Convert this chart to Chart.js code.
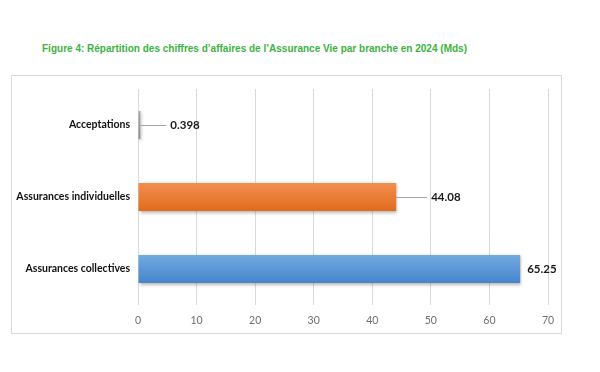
<!DOCTYPE html>
<html>
<head>
<meta charset="utf-8">
<script src="https://cdn.jsdelivr.net/npm/chart.js@4/dist/chart.umd.min.js"></script>
<style>
  html, body { margin: 0; padding: 0; background: #ffffff; }
  body { width: 600px; height: 372px; position: relative; overflow: hidden; }
  #title {
    position: absolute; left: 42px; top: 42px;
    font-family: "Liberation Sans", Arial, sans-serif;
    font-weight: bold; font-size: 11.5px; color: #3db33f; white-space: nowrap;
    transform-origin: 0 50%;
  }
  #box {
    position: absolute; left: 11px; top: 75px; width: 549px; height: 257px;
    border: 1px solid #d9d9d9;
  }
  #box canvas { display: block; }
</style>
</head>
<body>
<div id="title">Figure 4: Répartition des chiffres d’affaires de l’Assurance Vie par branche en 2024 (Mds)</div>
<div id="box"><canvas id="c" width="549" height="257"></canvas></div>
<script>
const categories = ["Acceptations", "Assurances individuelles", "Assurances collectives"];
const values = [0.398, 44.08, 65.25];
const valueLabels = ["0.398", "44.08", "65.25"];
const xTicks = [0, 10, 20, 30, 40, 50, 60, 70];

const barTop = ["#a8a8a8", "#f48f50", "#72aae0"];
const barBottom = ["#8f8f8f", "#e06b1c", "#4585cc"];
const leaderLen = [26, 31, 0];

// condense the title to the reference's narrow width
(function () {
  const t = document.getElementById('title');
  const w = t.getBoundingClientRect().width;
  t.style.transform = 'scaleX(' + (425 / w) + ')';
})();

const gradientPlugin = {
  id: 'grad',
  beforeDatasetsDraw(chart) {
    const ctx = chart.ctx;
    const meta = chart.getDatasetMeta(0);
    meta.data.forEach((el, i) => {
      const h = el.height;
      const g = ctx.createLinearGradient(0, el.y - h / 2, 0, el.y + h / 2);
      g.addColorStop(0, barTop[i]);
      g.addColorStop(1, barBottom[i]);
      el.options.backgroundColor = g;
    });
    ctx.save();
    ctx.shadowColor = 'rgba(0,0,0,0.30)';
    ctx.shadowBlur = 3;
    ctx.shadowOffsetX = 1;
    ctx.shadowOffsetY = 1.5;
  },
  afterDatasetsDraw(chart) {
    const ctx = chart.ctx;
    ctx.restore();
    const meta = chart.getDatasetMeta(0);
    ctx.save();
    ctx.font = 'bold 11.5px Lato, "Open Sans", sans-serif';
    ctx.fillStyle = '#1a1a1a';
    ctx.textBaseline = 'middle';
    ctx.textAlign = 'left';
    meta.data.forEach((el, i) => {
      const x0 = el.x;
      const y = el.y;
      let tx = x0 + 7;
      if (leaderLen[i] > 0) {
        ctx.strokeStyle = '#a6a6a6';
        ctx.lineWidth = 1;
        ctx.beginPath();
        ctx.moveTo(x0, Math.round(y) + 0.5);
        ctx.lineTo(x0 + leaderLen[i], Math.round(y) + 0.5);
        ctx.stroke();
        tx = x0 + leaderLen[i] + 4;
      }
      ctx.fillText(valueLabels[i], tx, y);
    });
    ctx.restore();
  }
};

function noPad(scale) {
  scale.paddingLeft = 0; scale.paddingRight = 0;
  scale.paddingTop = 0; scale.paddingBottom = 0;
}

new Chart(document.getElementById('c'), {
  type: 'bar',
  data: {
    labels: categories,
    datasets: [{
      data: values,
      backgroundColor: barTop,
      borderWidth: 0,
      barPercentage: 0.78,
      categoryPercentage: 0.5
    }]
  },
  options: {
    indexAxis: 'y',
    responsive: false,
    animation: false,
    devicePixelRatio: 1,
    layout: { autoPadding: false, padding: { left: 0, right: 13, top: 13, bottom: 0 } },
    plugins: { legend: { display: false }, tooltip: { enabled: false } },
    scales: {
      x: {
        min: 0, max: 70,
        afterBuildTicks(scale) { scale.ticks = xTicks.map(v => ({ value: v })); },
        afterFit(scale) { scale.height = 28; noPad(scale); },
        grid: { color: '#d9d9d9', lineWidth: 1, tickLength: 0, drawTicks: false },
        border: { display: false },
        ticks: { color: '#6e6e6e', font: { family: 'Lato, "Open Sans", sans-serif', size: 10.5 }, padding: 9 }
      },
      y: {
        afterFit(scale) { scale.width = 126; noPad(scale); },
        grid: { display: false, drawTicks: false, tickLength: 0 },
        border: { display: false },
        ticks: { color: '#111111', font: { family: 'Lato, "Open Sans", sans-serif', size: 10.5, weight: 'bold' }, padding: 8 }
      }
    }
  },
  plugins: [gradientPlugin]
});
</script>
</body>
</html>
